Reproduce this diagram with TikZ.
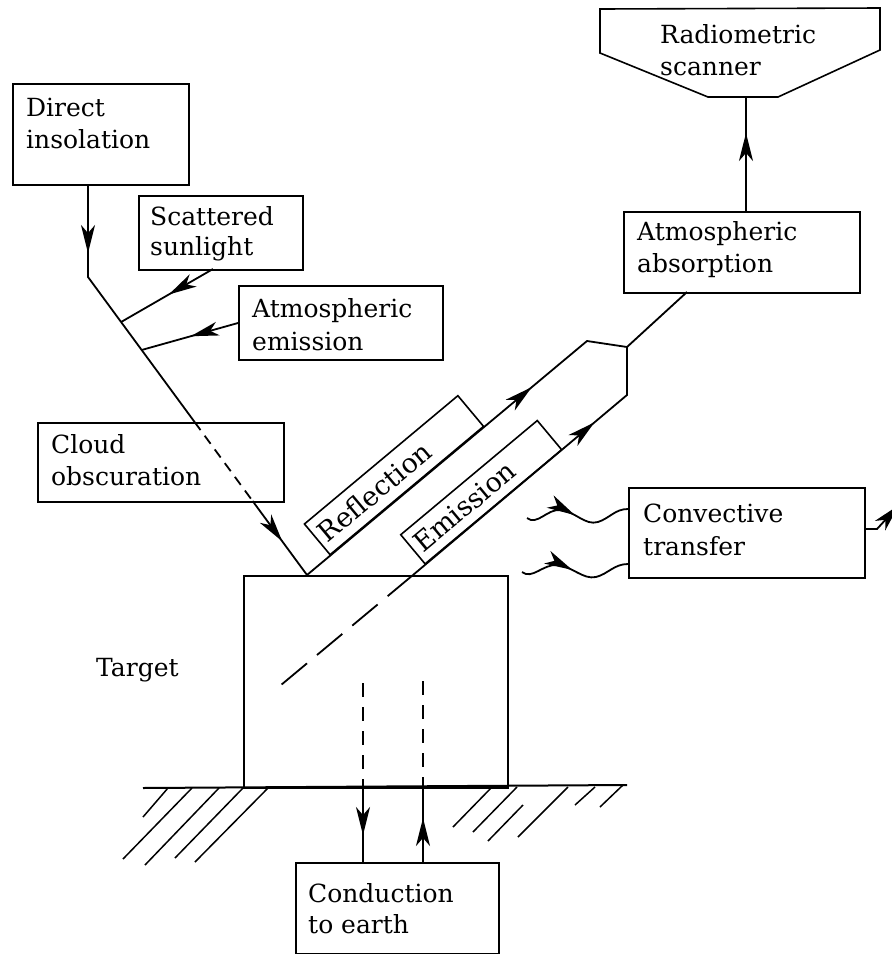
\documentclass[tikz,border=0pt]{standalone}
\usepackage{fontspec}
\setmainfont{DejaVu Serif}
\usetikzlibrary{arrows.meta,decorations.markings,calc}
\tikzset{
  >={Stealth[length=28pt,width=14pt,inset=8pt]},
  boxed/.style={draw, line width=1.6pt, inner sep=0pt, anchor=north west},
  lbl/.style={anchor=base west, inner sep=0pt, font=\fontsize{25}{30}\selectfont},
  rotbox/.style={draw, line width=1.6pt, rotate=39.9, anchor=south west, inner ysep=0pt, inner xsep=5pt, align=left, font=\fontsize{27}{30}\selectfont},
  flow/.style={line width=1.8pt},
  arrowat/.style={postaction={decorate}, decoration={markings, mark=at position #1 with {\arrow{>}}}},
  hatchline/.style={line width=1.5pt},
  shortdash/.style={dash pattern=on 10pt off 7pt},
  longdash/.style={dash pattern=on 33pt off 13pt},
  vdash/.style={dash pattern=on 14pt off 10pt}
}
\begin{document}
\begin{tikzpicture}[x=1pt,y=-1pt]
\useasboundingbox (0,0) rectangle (892,954);

% ---------- boxes ----------
\node[boxed, minimum width=176pt, minimum height=101pt] (di) at (12,83) {};
\node[boxed, minimum width=164pt, minimum height=74pt] (ss) at (138,195) {};
\node[boxed, minimum width=204pt, minimum height=74pt] (ae) at (238,285) {};
\node[boxed, minimum width=246pt, minimum height=79pt] (co) at (37,422) {};
\node[boxed, minimum width=236pt, minimum height=81pt] (aa) at (623,211) {};
\node[boxed, minimum width=236pt, minimum height=90pt] (ct) at (628,487) {};
\node[boxed, minimum width=203pt, minimum height=91pt] (ce) at (295,862) {};
\node[boxed, minimum width=264pt, minimum height=212pt] (tg) at (243,575) {};

% scanner
\draw[line width=1.6pt] (600,9) -- (880,8) -- (880,50) -- (778,97) -- (708,97) -- (600,53) -- cycle;
\coordinate (scb) at (746,97);

% ---------- texts ----------
\node[lbl] (di1) at (26,116) {Direct};
\node[lbl] (di2) at (26,148) {insolation};
\node[lbl] (ss1) at (150,225) {Scattered};
\node[lbl] (ss2) at (150,255) {sunlight};
\node[lbl] (ae1) at (252,317) {Atmospheric};
\node[lbl] (ae2) at (252,350) {emission};
\node[lbl] (co1) at (51,453) {Cloud};
\node[lbl] (co2) at (51,485) {obscuration};
\node[lbl] (aa1) at (637,240) {Atmospheric};
\node[lbl] (aa2) at (637,272) {absorption};
\node[lbl] (sc1) at (660,43) {Radiometric};
\node[lbl] (sc2) at (660,75) {scanner};
\node[lbl] (ct1) at (643,522) {Convective};
\node[lbl] (ct2) at (643,555) {transfer};
\node[lbl] (ce1) at (308,902) {Conduction};
\node[lbl] (ce2) at (308,933) {to earth};
\node[lbl] (tgl) at (96,676) {Target};

% ---------- key points ----------
\coordinate (dis) at (88,184);
\coordinate (bend) at (88,277);
\coordinate (j1) at (121.1,322);
\coordinate (j2) at (141.6,350);
\coordinate (cot) at (194.6,422);
\coordinate (cob) at (252.6,501);
\coordinate (r0) at (307,575);
\coordinate (r1) at (587,341);
\coordinate (jn) at (627,347);
\coordinate (aab) at (687,292);
\coordinate (e0) at (413,575);
\coordinate (e1) at (627,395);
\coordinate (ssb) at (213,269);
\coordinate (ael) at (238,323);
\coordinate (aat) at (746,211);

% direct insolation path
\draw[flow, arrowat=69pt] (dis) -- (bend) -- (cot);
\draw[flow, shortdash] (cot) -- (cob);
\draw[flow, arrowat=50pt] (cob) -- (r0);

% scattered and atmospheric emission
\draw[flow, arrowat=51pt] (ssb) -- (j1);
\draw[flow, arrowat=49pt] (ael) -- (j2);

% reflection and emission
\draw[flow, arrowat=293pt] (r0) -- (r1) -- (jn) -- (aab);
\draw[flow, arrowat=237pt] (e0) -- (e1) -- (jn);
\draw[flow, longdash] (e0) -- (275,690);

% rotated label boxes
\node[rotbox, minimum width=200pt, minimum height=40pt, text width=190pt] (rf) at (330,555.8) {Reflection};
\node[rotbox, minimum width=178pt, minimum height=38pt, text width=168pt] (em) at (425,565) {Emission};

% to scanner
\draw[flow, arrowat=78pt] (aat) -- (scb);

% convective transfer waves
\coordinate (w1s) at (527,518);
\coordinate (w1e) at (628,509);
\coordinate (w2s) at (522,572);
\coordinate (w2e) at (628,564);
\draw[flow, arrowat=0.47] (w1s) .. controls (537,526) and (547,509) .. (560,510)
   .. controls (575,511) and (585,526) .. (598,522)
   .. controls (610,518) and (615,509) .. (w1e);
\draw[flow, arrowat=0.47] (w2s) .. controls (532,580) and (543,564) .. (557,565)
   .. controls (572,566) and (583,580) .. (596,577)
   .. controls (608,574) and (614,564) .. (w2e);
\coordinate (ctr) at (864,529);
\coordinate (ctx) at (899,505);
\draw[flow, ->] (ctr) -- (877,529) -- (ctx);

% conduction arrows
\coordinate (cl0) at (363,683);
\coordinate (cl1) at (363,787);
\coordinate (cl2) at (363,862);
\coordinate (cr0) at (423,681);
\coordinate (cr1) at (423,787);
\coordinate (cr2) at (423,862);
\draw[flow, vdash] (cl0) -- (cl1);
\draw[flow, arrowat=48pt] (cl1) -- (cl2);
\draw[flow, vdash] (cr0) -- (cr1);
\draw[flow, arrowat=44pt] (cr2) -- (cr1);

% ground line and hatching
\draw[line width=2pt] (143,788) -- (627,785);
\draw[hatchline] (168,788) -- (143,817);
\draw[hatchline] (192,788) -- (123,859);
\draw[hatchline] (219,788) -- (145,865);
\draw[hatchline] (243,788) -- (175,858);
\draw[hatchline] (268,788) -- (195,862);
\draw[hatchline] (492,787) -- (453,827);
\draw[hatchline] (517,787) -- (473,832);
\draw[hatchline] (523,805) -- (488,841);
\draw[hatchline] (568,787) -- (518,837);
\draw[hatchline] (595,787) -- (575,805);
\draw[hatchline] (623,785) -- (600,807);
\end{tikzpicture}
\end{document}
